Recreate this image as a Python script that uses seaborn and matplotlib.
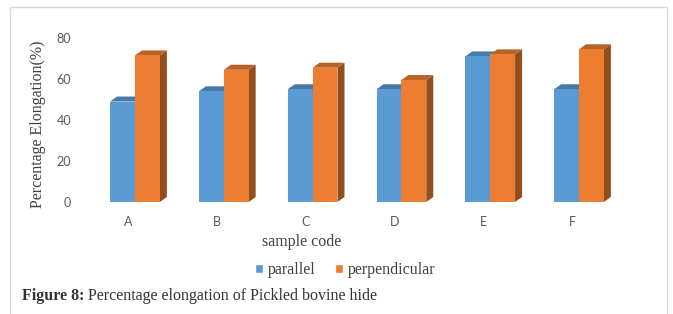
#!/usr/bin/env python3

import numpy as np
import pandas as pd
import seaborn as sns
import matplotlib.pyplot as plt
import matplotlib.transforms as mtrans
from matplotlib.patches import Polygon, Rectangle, Patch

samples = ["A", "B", "C", "D", "E", "F"]
series = ["parallel", "perpendicular"]
parallel = [49, 54, 55, 55, 71, 55]
perpendicular = [71.5, 64.5, 65.5, 59.5, 72, 74.5]
yticks = [0, 20, 40, 60, 80]

colors = {"parallel": "#5B9BD5", "perpendicular": "#ED7D31"}
serif = ["Liberation Serif", "DejaVu Serif"]


def shade(hexcol, k):
    rgb = np.array([int(hexcol[i:i + 2], 16) for i in (1, 3, 5)]) / 255.0
    return tuple(rgb * k)


def main():
    df = pd.DataFrame({
        "sample": samples * 2,
        "orientation": ["parallel"] * len(samples) + ["perpendicular"] * len(samples),
        "value": parallel + perpendicular,
    })

    sns.set_style("white")
    W, H = 673, 314
    fig = plt.figure(figsize=(W / 100, H / 100), dpi=100)
    ax = fig.add_axes([90.6 / W, (H - 202) / H, 532.8 / W, 174.25 / H])

    sns.barplot(
        data=df, x="sample", y="value", hue="orientation",
        palette=colors, width=0.56, ax=ax, legend=False,
        linewidth=0, saturation=1,
    )
    ax.set_xlim(-0.5, 5.5)
    ax.set_ylim(0, 85)
    for s in ax.spines.values():
        s.set_visible(False)
    ax.set_xlabel("")
    ax.set_ylabel("")
    ax.set_yticks(yticks)
    ax.tick_params(axis="both", length=0, labelsize=9, labelcolor="#595959")
    ax.tick_params(axis="y", pad=14)
    ax.tick_params(axis="x", pad=10)
    for lab in ax.get_xticklabels() + ax.get_yticklabels():
        lab.set_fontfamily(["Lato", "DejaVu Sans"])
    shift = mtrans.ScaledTranslation(-7 / 100, 0, fig.dpi_scale_trans)
    for lab in ax.get_xticklabels():
        lab.set_transform(lab.get_transform() + shift)

    # fake 3D depth: side and top faces drawn next to each bar
    dx = 7 / (532.8 / 6)
    dy = 5 / (174.25 / 85)
    bars = [p for p in ax.patches if isinstance(p, Rectangle) and p.get_width() > 0]
    for p in bars:
        fc = p.get_facecolor()
        key = "parallel" if fc[2] > fc[0] else "perpendicular"
        z = 2 if key == "parallel" else 3
        p.set_zorder(z)
        x0, w, h = p.get_x(), p.get_width(), p.get_height()
        side = [(x0 + w, 0), (x0 + w + dx, dy), (x0 + w + dx, h + dy), (x0 + w, h)]
        top = [(x0, h), (x0 + dx, h + dy), (x0 + w + dx, h + dy), (x0 + w, h)]
        ax.add_patch(Polygon(side, closed=True, lw=0,
                             facecolor=shade(colors[key], 0.62), zorder=z - 0.1))
        ax.add_patch(Polygon(top, closed=True, lw=0,
                             facecolor=shade(colors[key], 0.78), zorder=z - 0.1))

    fig.text(38 / W, 1 - 124 / H, "Percentage Elongation(%)", rotation=90,
             ha="center", va="center", fontsize=11.5, family=serif, color="#404040")
    fig.text(302 / W, 1 - 242 / H, "sample code", ha="center", va="center",
             fontsize=11.5, family=serif, color="#404040")

    handles = [Patch(facecolor=colors[s], label=s) for s in series]
    leg = fig.legend(handles=handles, loc="center", bbox_to_anchor=(345 / W, 1 - 270 / H),
                     ncol=2, frameon=False, handlelength=0.5, handleheight=0.5,
                     handletextpad=0.3, columnspacing=1.2,
                     prop={"family": serif, "size": 11.5})
    for t in leg.get_texts():
        t.set_color("#404040")

    # caption with bold lead-in
    t1 = fig.text(22 / W, 1 - 296 / H, "Figure 8:", ha="left", va="center",
                  fontsize=11.5, family=serif, weight="bold", color="#333333")
    fig.canvas.draw()
    bb = t1.get_window_extent()
    fig.text((bb.x1 + 4) / W, 1 - 296 / H, "Percentage elongation of Pickled bovine hide",
             ha="left", va="center", fontsize=11.5, family=serif, color="#333333")

    fig.patches.append(Rectangle((10 / W, -0.1), 657 / W, (H - 7) / H + 0.1,
                                 transform=fig.transFigure, fill=False,
                                 edgecolor="#d9d9d9", lw=1))

    fig.savefig("out.png", dpi=100)
    plt.close(fig)


if __name__ == "__main__":
    main()
